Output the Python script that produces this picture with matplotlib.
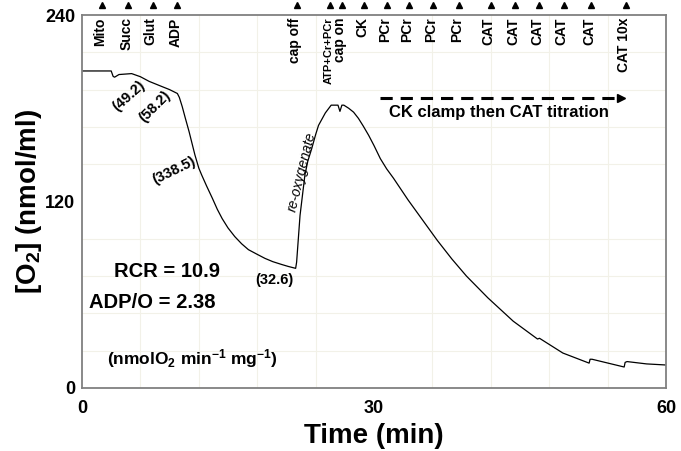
import matplotlib
matplotlib.use("Agg")
import matplotlib.pyplot as plt

plt.rcParams['font.family'] = ['Liberation Sans', 'DejaVu Sans']
plt.rcParams['mathtext.default'] = 'regular'

# oxygen trace (min, nmol/ml)
time = [0, 3.0, 3.2, 3.35, 3.8, 5.1, 6.0, 6.9, 8.2, 9.0, 9.8, 10.0, 10.3, 10.6, 11.0,
        11.3, 11.6, 12.0, 12.3, 12.8, 13.4, 13.9, 14.4, 15.0, 15.7, 16.4, 17.1, 18.0,
        18.8, 19.6, 20.5, 21.2, 21.95, 22.05, 22.4, 22.9, 23.2, 23.6, 24.0, 24.3, 25.0,
        25.6, 26.3, 26.5, 26.7, 26.9, 27.4, 27.9, 28.4, 28.9, 29.45, 30.0, 30.65, 31.3,
        32.0, 33.5, 35.0, 36.5, 38.0, 39.5, 41.7, 44.3, 46.8, 47.0, 49.4, 52.1, 52.2,
        52.4, 55.7, 55.8, 56.0, 58.0, 60.0]
o2 = [204, 204, 200.5, 200, 201.7, 202.3, 200.3, 197.3, 194, 192, 189.5, 187, 181, 174, 165,
      157.5, 150, 141.5, 137, 130, 122, 115, 109, 103, 97.4, 92.8, 89, 86,
      83.4, 81.3, 79.5, 78.2, 77, 81, 111, 137, 146, 154, 163, 169, 177,
      182, 182, 178, 182, 182, 180, 177.5, 173.5, 168.5, 162.6, 156, 147.6, 141,
      135, 121, 108, 95, 83, 72, 58, 43, 31.5, 32, 22.5, 16, 18.5,
      18.5, 13.5, 16.5, 17, 15.5, 14.8]

# additions marked on top of the trace
event_times = [2.1, 4.75, 7.26, 9.79, 22.06, 25.5, 26.7, 29.0, 31.3, 33.6, 36.1, 38.7,
               42.0, 44.5, 47.0, 49.5, 52.3, 55.9]
event_labels = ['Mito', 'Succ', 'Glut', 'ADP', 'cap off', 'ATP+Cr+PCr', 'cap on', 'CK',
                'PCr', 'PCr', 'PCr', 'PCr', 'CAT', 'CAT', 'CAT', 'CAT', 'CAT', 'CAT 10x']

# respiration rates written along the trace
rate_labels = ['(49.2)', '(58.2)', '(338.5)', '(32.6)']
rate_pos = [(4.8, 188), (7.5, 181), (9.5, 140), (19.8, 69.5)]
rate_rot = [42, 45, 26, 0]

fig = plt.figure(figsize=(6.81, 4.51), dpi=100)
ax = fig.add_axes([0.1204, 0.1397, 0.8576, 0.827])

ax.plot(time, o2, color='black', lw=0.9)

ax.set_xlim(0, 60)
ax.set_ylim(0, 240)
ax.set_xticks([0, 30, 60])
ax.set_yticks([0, 120, 240])
ax.set_xticks(range(0, 61, 6), minor=True)
ax.set_yticks(range(0, 241, 24), minor=True)
ax.grid(which='minor', color='#f2f1e8', lw=0.8)
ax.tick_params(which='both', length=0)
ax.tick_params(axis='x', pad=9)
ax.tick_params(axis='y', pad=5)
for lab in ax.get_xticklabels() + ax.get_yticklabels():
    lab.set_fontsize(13)
    lab.set_fontweight('bold')
for sp in ax.spines.values():
    sp.set_color('#808080')
    sp.set_linewidth(1.3)

ax.set_xlabel('Time (min)', fontsize=20, fontweight='bold', labelpad=4)
ax.set_ylabel('[O$_2$] (nmol/ml)', fontsize=20, fontweight='bold', labelpad=1)

# event markers
trans = ax.get_xaxis_transform()
for t, lab in zip(event_times, event_labels):
    ax.plot([t], [1.027], marker='^', color='black', ms=4.5, transform=trans, clip_on=False)
    fs = 8 if lab == 'ATP+Cr+PCr' else 10
    ax.text(t - 0.2, 0.994, lab, transform=trans, rotation=90, ha='center', va='top',
            fontsize=fs, fontweight='bold')

for lab, (x, y), r in zip(rate_labels, rate_pos, rate_rot):
    ax.text(x, y, lab, rotation=r, ha='center', va='center', fontsize=10.5,
            fontweight='bold', rotation_mode='anchor')

ax.text(22.6, 139, 're-oxygenate', rotation=76, ha='center', va='center',
        fontsize=10, style='italic', rotation_mode='anchor')

ax.text(8.7, 75, 'RCR = 10.9', ha='center', va='center', fontsize=14.5, fontweight='bold')
ax.text(7.2, 55, 'ADP/O = 2.38', ha='center', va='center', fontsize=14.5, fontweight='bold')
ax.text(11.3, 19, '(nmolO$_2$ min$^{-1}$ mg$^{-1}$)', ha='center', va='center',
        fontsize=12.5, fontweight='bold')

# CK clamp arrow
ax.plot([30.6, 55.0], [186.6, 186.6], color='black', lw=2.2, ls=(0, (4, 2.6)))
ax.plot([55.4], [186.6], marker='>', color='black', ms=6)
ax.text(42.8, 177, 'CK clamp then CAT titration', ha='center', va='center',
        fontsize=12, fontweight='bold')

fig.savefig('out.png', dpi=100)
